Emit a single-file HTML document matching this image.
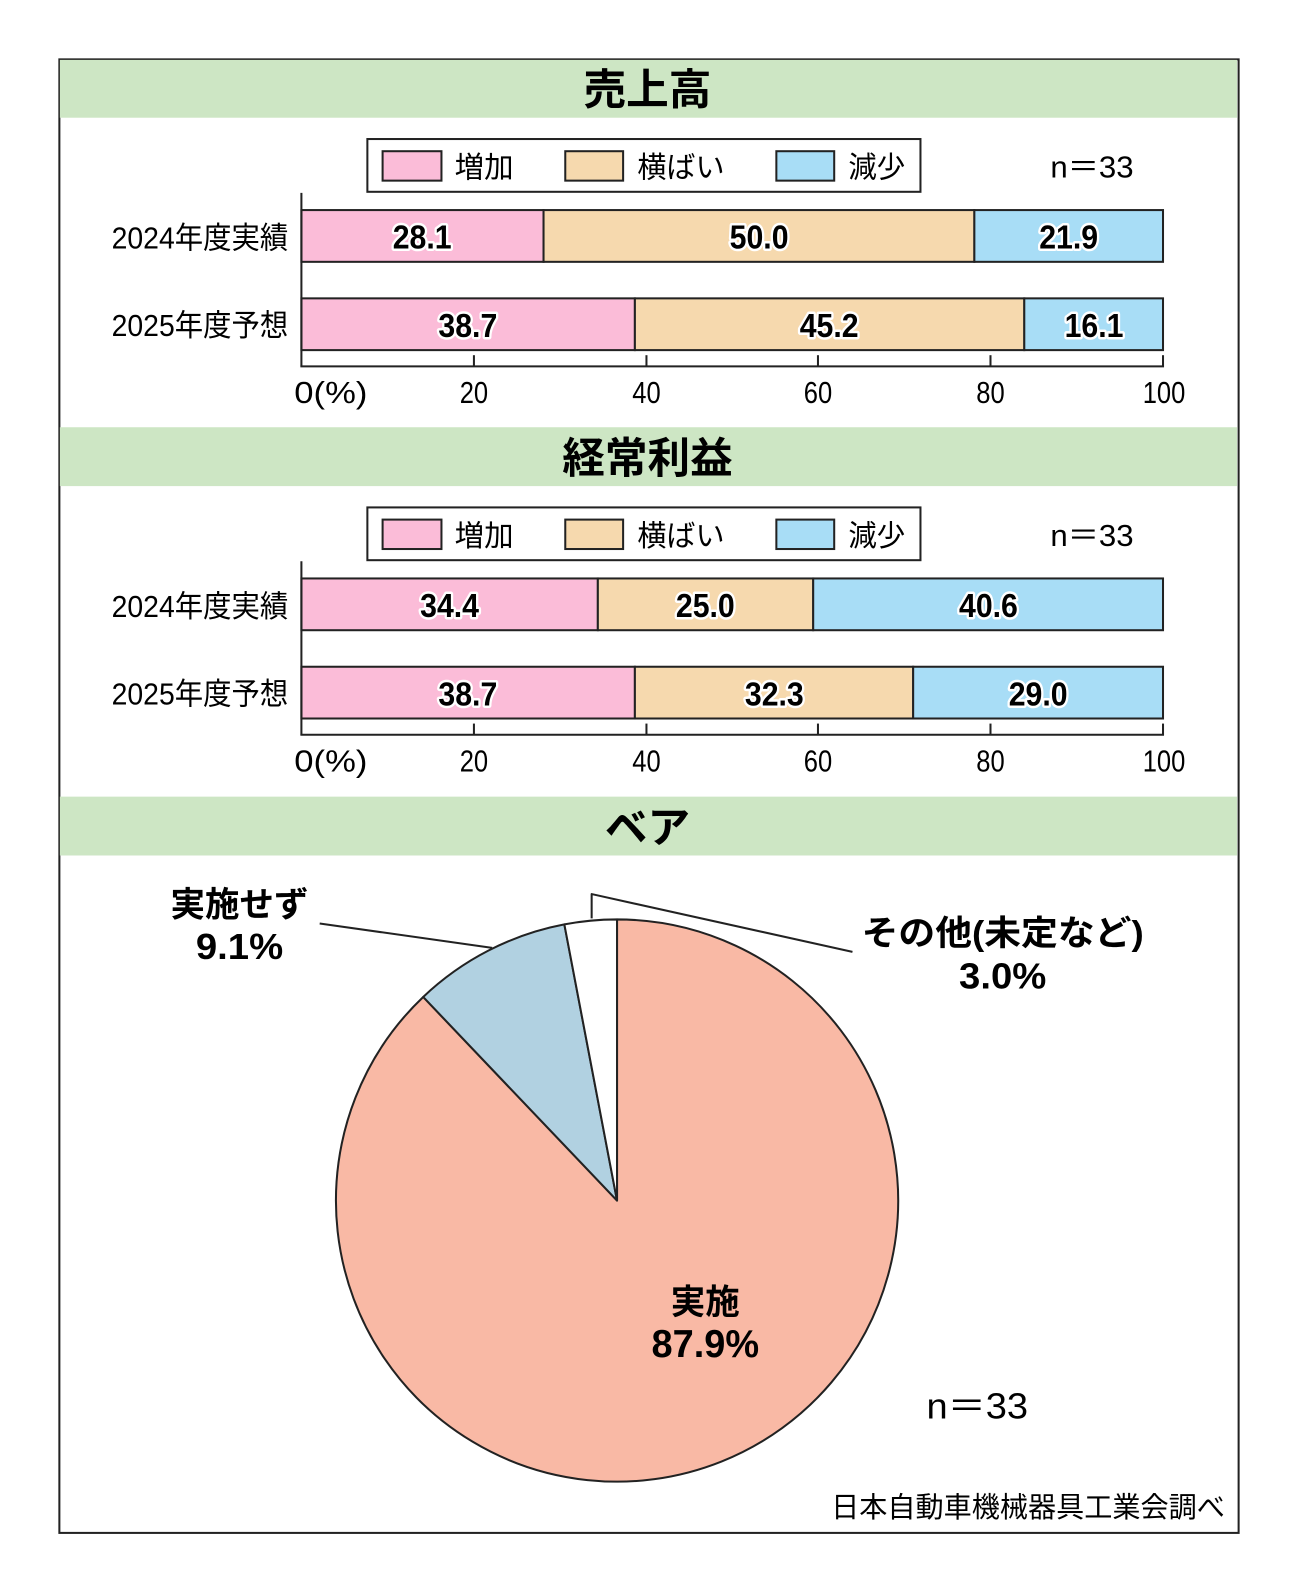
<!DOCTYPE html>
<html><head><meta charset="utf-8"><style>
html,body{margin:0;padding:0;background:#fff;}
svg{display:block;}
text{font-family:"Liberation Sans","Noto Sans CJK JP",sans-serif;}
.b{font-weight:bold;}
.v{font-weight:bold;font-size:33px;stroke:#fff;stroke-width:5px;paint-order:stroke;stroke-linejoin:round;}
</style></head><body>
<svg width="1299" height="1594" viewBox="0 0 1280 1570.7" preserveAspectRatio="none" xmlns="http://www.w3.org/2000/svg">
<rect x="0" y="0" width="1280" height="1571" fill="#fff"/>
<rect x="58.5" y="58.5" width="1162" height="1452" fill="#fff" stroke="#222" stroke-width="2"/>
<!-- headers -->
<rect x="59" y="59" width="1160" height="57" fill="#cde6c4"/>
<rect x="59" y="421" width="1160" height="58" fill="#cde6c4"/>
<rect x="59" y="785" width="1160" height="58" fill="#cde6c4"/>
<text x="638" y="103" text-anchor="middle" class="b" font-size="42">売上高</text>
<text x="638" y="466" text-anchor="middle" class="b" font-size="42">経常利益</text>
<text x="638" y="830" text-anchor="middle" class="b" font-size="42">ベア</text>

<!-- chart 1 -->
<g id="c1">
<rect x="362" y="137" width="545" height="52" fill="#fff" stroke="#222" stroke-width="2"/>
<rect x="377" y="149" width="58" height="29" fill="#fbbcd8" stroke="#222" stroke-width="2"/>
<text x="448" y="175" font-size="29" textLength="58" lengthAdjust="spacingAndGlyphs">増加</text>
<rect x="557" y="149" width="57" height="29" fill="#f6d9ae" stroke="#222" stroke-width="2"/>
<text x="628" y="175" font-size="29" textLength="86" lengthAdjust="spacingAndGlyphs">横ばい</text>
<rect x="765" y="149" width="57" height="29" fill="#a8ddf6" stroke="#222" stroke-width="2"/>
<text x="836" y="175" font-size="29" textLength="56" lengthAdjust="spacingAndGlyphs">減少</text>
<text x="1035" y="175" font-size="30" textLength="82" lengthAdjust="spacingAndGlyphs">n＝33</text>

<text x="284" y="245" text-anchor="end" font-size="30" textLength="174" lengthAdjust="spacingAndGlyphs">2024年度実績</text>
<text x="284" y="331" text-anchor="end" font-size="30" textLength="174" lengthAdjust="spacingAndGlyphs">2025年度予想</text>

<rect x="297" y="207" width="238.6" height="51" fill="#fbbcd8" stroke="#222" stroke-width="2"/>
<rect x="535.6" y="207" width="424.5" height="51" fill="#f6d9ae" stroke="#222" stroke-width="2"/>
<rect x="960.1" y="207" width="185.9" height="51" fill="#a8ddf6" stroke="#222" stroke-width="2"/>
<rect x="297" y="294" width="328.6" height="51" fill="#fbbcd8" stroke="#222" stroke-width="2"/>
<rect x="625.6" y="294" width="383.7" height="51" fill="#f6d9ae" stroke="#222" stroke-width="2"/>
<rect x="1009.3" y="294" width="136.7" height="51" fill="#a8ddf6" stroke="#222" stroke-width="2"/>
<text x="416" y="245" text-anchor="middle" class="v" textLength="58" lengthAdjust="spacingAndGlyphs">28.1</text>
<text x="748" y="245" text-anchor="middle" class="v" textLength="58" lengthAdjust="spacingAndGlyphs">50.0</text>
<text x="1053" y="245" text-anchor="middle" class="v" textLength="58" lengthAdjust="spacingAndGlyphs">21.9</text>
<text x="461" y="332" text-anchor="middle" class="v" textLength="58" lengthAdjust="spacingAndGlyphs">38.7</text>
<text x="817" y="332" text-anchor="middle" class="v" textLength="58" lengthAdjust="spacingAndGlyphs">45.2</text>
<text x="1078" y="332" text-anchor="middle" class="v" textLength="58" lengthAdjust="spacingAndGlyphs">16.1</text>

<line x1="297" y1="190" x2="297" y2="361" stroke="#222" stroke-width="2"/>
<line x1="296" y1="361" x2="1147" y2="361" stroke="#222" stroke-width="2"/>
<g stroke="#222" stroke-width="2">
<line x1="467" y1="350" x2="467" y2="361"/><line x1="637" y1="350" x2="637" y2="361"/>
<line x1="806" y1="350" x2="806" y2="361"/><line x1="976" y1="350" x2="976" y2="361"/>
<line x1="1146" y1="350" x2="1146" y2="361"/></g>
<text x="290" y="397" font-size="30" textLength="72" lengthAdjust="spacingAndGlyphs">0(%)</text>
<text x="467" y="397" text-anchor="middle" font-size="30" textLength="28" lengthAdjust="spacingAndGlyphs">20</text>
<text x="637" y="397" text-anchor="middle" font-size="30" textLength="28" lengthAdjust="spacingAndGlyphs">40</text>
<text x="806" y="397" text-anchor="middle" font-size="30" textLength="28" lengthAdjust="spacingAndGlyphs">60</text>
<text x="976" y="397" text-anchor="middle" font-size="30" textLength="28" lengthAdjust="spacingAndGlyphs">80</text>
<text x="1147" y="397" text-anchor="middle" font-size="30" textLength="42" lengthAdjust="spacingAndGlyphs">100</text>
</g>

<!-- chart 2 -->
<g transform="translate(0,363)">
<rect x="362" y="137" width="545" height="52" fill="#fff" stroke="#222" stroke-width="2"/>
<rect x="377" y="149" width="58" height="29" fill="#fbbcd8" stroke="#222" stroke-width="2"/>
<text x="448" y="175" font-size="29" textLength="58" lengthAdjust="spacingAndGlyphs">増加</text>
<rect x="557" y="149" width="57" height="29" fill="#f6d9ae" stroke="#222" stroke-width="2"/>
<text x="628" y="175" font-size="29" textLength="86" lengthAdjust="spacingAndGlyphs">横ばい</text>
<rect x="765" y="149" width="57" height="29" fill="#a8ddf6" stroke="#222" stroke-width="2"/>
<text x="836" y="175" font-size="29" textLength="56" lengthAdjust="spacingAndGlyphs">減少</text>
<text x="1035" y="175" font-size="30" textLength="82" lengthAdjust="spacingAndGlyphs">n＝33</text>

<text x="284" y="245" text-anchor="end" font-size="30" textLength="174" lengthAdjust="spacingAndGlyphs">2024年度実績</text>
<text x="284" y="331" text-anchor="end" font-size="30" textLength="174" lengthAdjust="spacingAndGlyphs">2025年度予想</text>

<rect x="297" y="207" width="292.1" height="51" fill="#fbbcd8" stroke="#222" stroke-width="2"/>
<rect x="589.1" y="207" width="212.2" height="51" fill="#f6d9ae" stroke="#222" stroke-width="2"/>
<rect x="801.3" y="207" width="344.7" height="51" fill="#a8ddf6" stroke="#222" stroke-width="2"/>
<rect x="297" y="294" width="328.6" height="51" fill="#fbbcd8" stroke="#222" stroke-width="2"/>
<rect x="625.6" y="294" width="274.2" height="51" fill="#f6d9ae" stroke="#222" stroke-width="2"/>
<rect x="899.8" y="294" width="246.2" height="51" fill="#a8ddf6" stroke="#222" stroke-width="2"/>
<text x="443" y="245" text-anchor="middle" class="v" textLength="58" lengthAdjust="spacingAndGlyphs">34.4</text>
<text x="695" y="245" text-anchor="middle" class="v" textLength="58" lengthAdjust="spacingAndGlyphs">25.0</text>
<text x="974" y="245" text-anchor="middle" class="v" textLength="58" lengthAdjust="spacingAndGlyphs">40.6</text>
<text x="461" y="332" text-anchor="middle" class="v" textLength="58" lengthAdjust="spacingAndGlyphs">38.7</text>
<text x="763" y="332" text-anchor="middle" class="v" textLength="58" lengthAdjust="spacingAndGlyphs">32.3</text>
<text x="1023" y="332" text-anchor="middle" class="v" textLength="58" lengthAdjust="spacingAndGlyphs">29.0</text>

<line x1="297" y1="190" x2="297" y2="361" stroke="#222" stroke-width="2"/>
<line x1="296" y1="361" x2="1147" y2="361" stroke="#222" stroke-width="2"/>
<g stroke="#222" stroke-width="2">
<line x1="467" y1="350" x2="467" y2="361"/><line x1="637" y1="350" x2="637" y2="361"/>
<line x1="806" y1="350" x2="806" y2="361"/><line x1="976" y1="350" x2="976" y2="361"/>
<line x1="1146" y1="350" x2="1146" y2="361"/></g>
<text x="290" y="397" font-size="30" textLength="72" lengthAdjust="spacingAndGlyphs">0(%)</text>
<text x="467" y="397" text-anchor="middle" font-size="30" textLength="28" lengthAdjust="spacingAndGlyphs">20</text>
<text x="637" y="397" text-anchor="middle" font-size="30" textLength="28" lengthAdjust="spacingAndGlyphs">40</text>
<text x="806" y="397" text-anchor="middle" font-size="30" textLength="28" lengthAdjust="spacingAndGlyphs">60</text>
<text x="976" y="397" text-anchor="middle" font-size="30" textLength="28" lengthAdjust="spacingAndGlyphs">80</text>
<text x="1147" y="397" text-anchor="middle" font-size="30" textLength="42" lengthAdjust="spacingAndGlyphs">100</text>
</g>

<!-- pie -->
<g stroke="#222" stroke-width="2" stroke-linejoin="round">
<path d="M608,1183 L608,906 A277,277 0 1 1 417,982.4 Z" fill="#f9b9a5"/>
<path d="M608,1183 L417,982.4 A277,277 0 0 1 556.1,910.9 Z" fill="#b1d1e1"/>
<path d="M608,1183 L556.1,910.9 A277,277 0 0 1 608,906 Z" fill="#fff"/>
<line x1="315" y1="910" x2="485" y2="934"/>
<polyline points="583,905 583,881 840,938" fill="none"/>
</g>
<text x="236" y="903" text-anchor="middle" class="b" font-size="34" textLength="136" lengthAdjust="spacingAndGlyphs">実施せず</text>
<text x="236" y="945" text-anchor="middle" class="b" font-size="36" textLength="86" lengthAdjust="spacingAndGlyphs">9.1%</text>
<text x="988" y="931" text-anchor="middle" class="b" font-size="34" textLength="278" lengthAdjust="spacingAndGlyphs">その他(未定など)</text>
<text x="988" y="974" text-anchor="middle" class="b" font-size="36" textLength="86" lengthAdjust="spacingAndGlyphs">3.0%</text>
<text x="695" y="1295" text-anchor="middle" class="b" font-size="34" textLength="68" lengthAdjust="spacingAndGlyphs">実施</text>
<text x="695" y="1337" text-anchor="middle" class="b" font-size="38" textLength="106" lengthAdjust="spacingAndGlyphs">87.9%</text>
<text x="913" y="1398" font-size="36" textLength="100" lengthAdjust="spacingAndGlyphs">n＝33</text>
<text x="1207" y="1495" text-anchor="end" font-size="28" textLength="388" lengthAdjust="spacingAndGlyphs">日本自動車機械器具工業会調べ</text>
</svg>
</body></html>
